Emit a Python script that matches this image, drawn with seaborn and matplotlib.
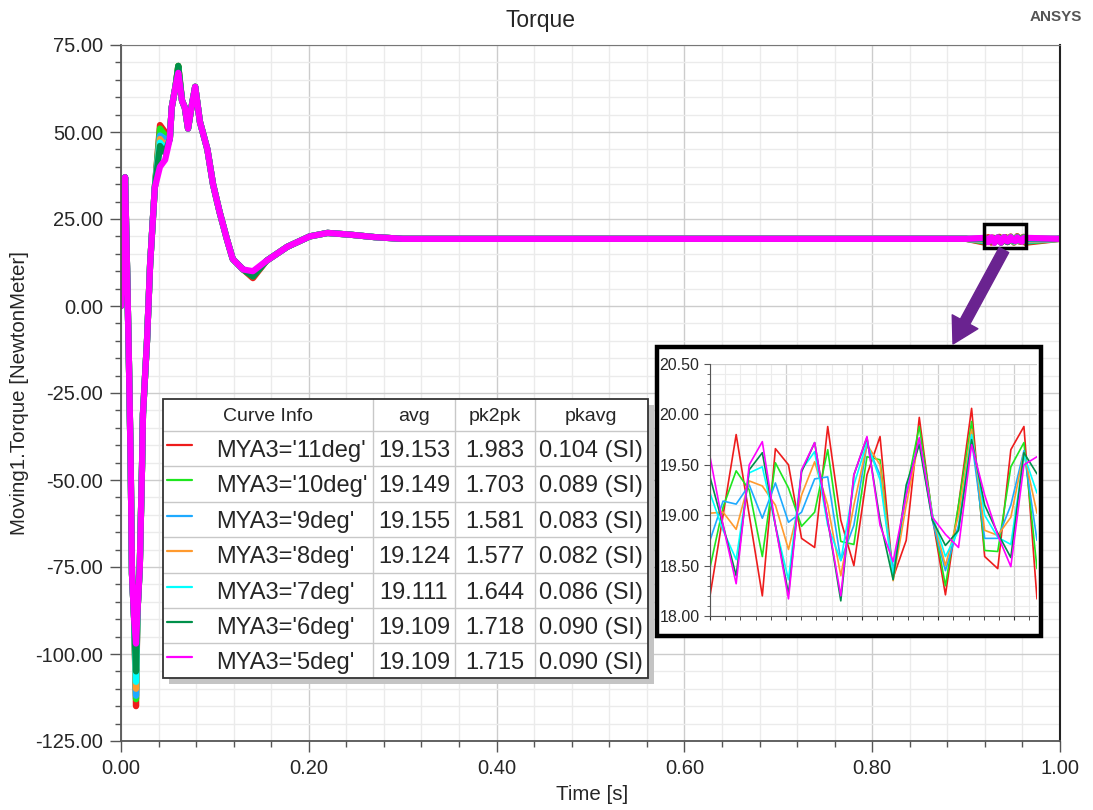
import numpy as np
import pandas as pd
import matplotlib
matplotlib.use("Agg")
import matplotlib.pyplot as plt
import seaborn as sns
from matplotlib.patches import Rectangle
from matplotlib.ticker import MultipleLocator, FormatStrFormatter, NullFormatter

# ---------------- data ----------------
curves = ["MYA3='11deg'", "MYA3='10deg'", "MYA3='9deg'", "MYA3='8deg'",
          "MYA3='7deg'", "MYA3='6deg'", "MYA3='5deg'"]
colors = ["#ee1c1c", "#1ee61e", "#1eaaff", "#ff9a2e", "#00ffff", "#00904a", "#ff00ff"]
avg = ["19.153", "19.149", "19.155", "19.124", "19.111", "19.109", "19.109"]
pk2pk = ["1.983", "1.703", "1.581", "1.577", "1.644", "1.718", "1.715"]
pkavg = ["0.104 (SI)", "0.089 (SI)", "0.083 (SI)", "0.082 (SI)", "0.086 (SI)", "0.090 (SI)", "0.090 (SI)"]

# transient part (shared shape)
t_tr = [0.000, 0.002, 0.0043, 0.0065, 0.0085, 0.0103, 0.0117, 0.014, 0.016, 0.0175,
        0.020, 0.0224, 0.0234, 0.0277, 0.031, 0.036, 0.0415, 0.047, 0.052, 0.054,
        0.058, 0.061, 0.065, 0.068, 0.0714, 0.075, 0.079, 0.084, 0.092, 0.098,
        0.105, 0.113, 0.119, 0.130, 0.1405, 0.155, 0.177, 0.201, 0.220, 0.244, 0.270]
v_tr = [0.0, 20.0, 37.0, 10.0, -17.0, -45.0, -77.0, -90.0, -97.0, -88.0,
        -75.0, -46.0, -31.0, -10.0, 12.0, 34.0, 40.0, 42.0, 48.0, 57.0,
        63.0, 67.0, 59.0, 57.0, 51.0, 57.0, 63.0, 53.0, 45.0, 35.0,
        27.0, 19.0, 13.5, 10.5, 10.0, 13.0, 17.0, 20.0, 21.0, 20.5, 19.8]
# per-curve values at points where the curves separate
dip_min = [-115.0, -113.0, -112.0, -110.0, -108.0, -105.0, -97.0]    # t = 0.016
hump_a = [52.0, 51.0, 49.0, 48.0, 47.0, 46.0, 40.0]                  # t = 0.0415
hump_b = [50.0, 49.0, 48.0, 46.0, 45.0, 44.0, 42.0]                  # t = 0.047
peak = [69.0, 69.0, 68.0, 68.0, 68.0, 69.0, 67.0]                    # t = 0.061
trough = [8.0, 8.5, 9.0, 9.0, 9.5, 8.5, 10.0]                        # t = 0.1405

# steady state
t_ss = [0.30, 0.40, 0.50, 0.60, 0.70, 0.80, 0.90]
v_ss = [19.3, 19.3, 19.3, 19.3, 19.3, 19.3, 19.3]
t_end = [1.0]
v_end = [19.3]

# zoomed window (inset) samples
t_in = list(np.linspace(0.9200, 0.9630, 26))
inset_vals = {
    "MYA3='11deg'": [18.20, 19.00, 19.80, 19.00, 18.20, 19.66, 19.50, 18.77, 18.68, 19.88, 18.95, 18.50, 19.40,
                     19.78, 18.38, 18.75, 19.97, 18.98, 18.21, 19.10, 20.06, 18.59, 18.47, 19.65, 19.88, 18.17],
    "MYA3='10deg'": [18.48, 19.08, 19.44, 19.25, 18.59, 19.52, 19.27, 18.89, 19.03, 19.65, 18.74, 18.71, 19.58,
                     19.55, 18.39, 19.24, 19.88, 19.01, 18.30, 19.10, 19.93, 18.65, 18.64, 19.48, 19.72, 18.47],
    "MYA3='9deg'": [18.75, 19.14, 19.11, 19.30, 18.97, 19.32, 18.93, 19.03, 19.36, 19.38, 18.55, 18.90, 19.70,
                    19.40, 18.45, 19.20, 19.75, 18.95, 18.45, 18.90, 19.75, 18.77, 18.77, 19.10, 19.64, 18.75],
    "MYA3='8deg'": [19.02, 19.03, 18.86, 19.34, 19.29, 19.10, 18.66, 19.20, 19.53, 19.10, 18.40, 19.10, 19.70,
                    19.50, 18.35, 19.10, 19.75, 19.00, 18.50, 19.00, 19.85, 18.85, 18.80, 18.98, 19.62, 19.02],
    "MYA3='7deg'": [19.22, 18.85, 18.56, 19.42, 19.48, 18.90, 18.36, 19.45, 19.63, 18.90, 18.55, 19.30, 19.72,
                    19.35, 18.40, 19.25, 19.75, 19.00, 18.59, 18.85, 19.80, 19.00, 18.78, 18.71, 19.60, 19.22],
    "MYA3='6deg'": [19.38, 18.90, 18.40, 19.45, 19.62, 18.90, 18.22, 19.43, 19.72, 18.95, 18.15, 19.40, 19.77,
                    18.95, 18.36, 19.30, 19.70, 18.95, 18.70, 18.85, 19.75, 19.10, 18.82, 18.58, 19.62, 19.41],
    "MYA3='5deg'": [19.58, 18.90, 18.32, 19.50, 19.73, 18.90, 18.17, 19.45, 19.72, 18.95, 18.20, 19.40, 19.78,
                    18.90, 18.54, 19.20, 19.77, 18.98, 18.81, 18.68, 19.70, 19.20, 18.80, 18.49, 19.50, 19.58],
}

# ---------------- build frames ----------------
rows_main, rows_in = [], []
for k, name in enumerate(curves):
    vt = list(v_tr)
    vt[t_tr.index(0.016)] = dip_min[k]
    vt[t_tr.index(0.0415)] = hump_a[k]
    vt[t_tr.index(0.047)] = hump_b[k]
    vt[t_tr.index(0.061)] = peak[k]
    vt[t_tr.index(0.1405)] = trough[k]
    tt = t_tr + t_ss + t_in + t_end
    vv = vt + v_ss + inset_vals[name] + v_end
    for t, v in zip(tt, vv):
        rows_main.append((name, t, v))
    for t, v in zip(t_in, inset_vals[name]):
        rows_in.append((name, t, v))
df = pd.DataFrame(rows_main, columns=["curve", "time", "torque"])
dfi = pd.DataFrame(rows_in, columns=["curve", "time", "torque"])
pal = dict(zip(curves, colors))

# ---------------- style ----------------
sns.set_style("white")
plt.rcParams["font.family"] = ["Liberation Sans", "DejaVu Sans"]

W, H = 1093, 810
fig = plt.figure(figsize=(W / 100, H / 100), dpi=100)


def box(x0, y0, x1, y1):
    return [x0 / W, 1 - y1 / H, (x1 - x0) / W, (y1 - y0) / H]


ax = fig.add_axes(box(121, 45, 1060, 741))
sns.lineplot(data=df, x="time", y="torque", hue="curve", hue_order=curves, palette=pal,
             lw=4.5, legend=False, estimator=None, sort=False, ax=ax)
ax.set_xlim(0, 1.0)
ax.set_ylim(-125, 75)
ax.xaxis.set_major_locator(MultipleLocator(0.2))
ax.xaxis.set_minor_locator(MultipleLocator(0.04))
ax.yaxis.set_major_locator(MultipleLocator(25))
ax.yaxis.set_minor_locator(MultipleLocator(5))
ax.xaxis.set_major_formatter(FormatStrFormatter("%.2f"))
ax.yaxis.set_major_formatter(FormatStrFormatter("%.2f"))
ax.grid(which="major", color="#cccccc", lw=1.0)
ax.grid(which="minor", color="#ebebeb", lw=1.0)
ax.set_axisbelow(True)
ax.tick_params(which="major", direction="out", length=8, width=1, color="#555555",
               labelsize=14.5, pad=5, bottom=True, left=True)
ax.tick_params(which="minor", direction="out", length=4.5, width=1, color="#555555",
               bottom=True, left=True)
for s in ["left", "bottom"]:
    ax.spines[s].set_color("#555555")
    ax.spines[s].set_linewidth(1.3)
ax.spines["top"].set_color("#777777")
ax.spines["right"].set_color("#222222")
ax.spines["right"].set_linewidth(1.5)
ax.set_xlabel("")
ax.set_ylabel("")

# marked window
ax.add_patch(Rectangle((t_in[0] - 0.001, 16.7), (t_in[-1] - t_in[0]) + 0.002, 6.9,
                       fill=False, ec="black", lw=2.5, zorder=10))

# texts
fig.text(541 / W, 1 - 20 / H, "Torque", ha="center", va="center", fontsize=16.5)
fig.text(1082 / W, 1 - 17 / H, "ANSYS", ha="right", va="center", fontsize=11,
         fontweight="bold", color="#555555")
fig.text(592 / W, 1 - 795 / H, "Time [s]", ha="center", va="center", fontsize=14.8)
fig.text(20 / W, 1 - 393 / H, "Moving1.Torque [NewtonMeter]", ha="center", va="center",
         rotation=90, fontsize=14.8)

# ---------------- legend table ----------------
tab = fig.add_axes(box(160, 396, 660, 690))
tab.set_xlim(160, 660)
tab.set_ylim(690, 396)
tab.axis("off")
tab.set_zorder(5)
tab.patch.set_alpha(0)
x0, x1 = 163, 648
ybounds = [399, 431, 466, 502, 537, 573, 608, 643, 678]
xcols = [163, 373, 455, 535, 648]
tab.add_patch(Rectangle((x0 + 6, ybounds[0] + 6), x1 - x0, ybounds[-1] - ybounds[0],
                        fc="#c4c4c4", ec="none", zorder=1))
tab.add_patch(Rectangle((x0, ybounds[0]), x1 - x0, ybounds[-1] - ybounds[0],
                        fc="white", ec="none", zorder=2))
for yb in ybounds[1:-1]:
    tab.plot([x0, x1], [yb, yb], color="#c8c8c8", lw=1, zorder=3)
for xb in xcols[1:-1]:
    tab.plot([xb, xb], [ybounds[0], ybounds[-1]], color="#c8c8c8", lw=1, zorder=3)
tab.add_patch(Rectangle((x0, ybounds[0]), x1 - x0, ybounds[-1] - ybounds[0],
                        fill=False, ec="#333333", lw=1.3, zorder=4))
hy = (ybounds[0] + ybounds[1]) / 2 + 1
tab.text(268, hy, "Curve Info", ha="center", va="center", fontsize=14, zorder=5)
tab.text(414, hy, "avg", ha="center", va="center", fontsize=14, zorder=5)
tab.text(495, hy, "pk2pk", ha="center", va="center", fontsize=14, zorder=5)
tab.text(591, hy, "pkavg", ha="center", va="center", fontsize=14, zorder=5)
for i, name in enumerate(curves):
    yc = (ybounds[i + 1] + ybounds[i + 2]) / 2 + 2
    tab.plot([167, 192], [yc - 6, yc - 6], color=colors[i], lw=1.6, zorder=5)
    tab.text(216, yc, name, ha="left", va="center", fontsize=17, zorder=5)
    tab.text(414, yc, avg[i], ha="center", va="center", fontsize=17, zorder=5)
    tab.text(495, yc, pk2pk[i], ha="center", va="center", fontsize=17, zorder=5)
    tab.text(591, yc, pkavg[i], ha="center", va="center", fontsize=17, zorder=5)

# ---------------- inset ----------------
frame = fig.add_axes(box(650, 342, 1050, 645))
frame.set_xlim(650, 1050)
frame.set_ylim(645, 342)
frame.axis("off")
frame.set_zorder(6)
frame.patch.set_alpha(0)
frame.add_patch(Rectangle((657, 347), 384, 289, fc="white", ec="black", lw=3.2))

axi = fig.add_axes(box(710, 364, 1037, 616))
axi.set_zorder(7)
sns.lineplot(data=dfi, x="time", y="torque", hue="curve", hue_order=curves, palette=pal,
             lw=1.2, legend=False, estimator=None, sort=False, ax=axi)
axi.set_xlim(t_in[0], t_in[-1])
axi.set_ylim(18.0, 20.5)
axi.yaxis.set_major_locator(MultipleLocator(0.5))
axi.yaxis.set_minor_locator(MultipleLocator(0.1))
axi.yaxis.set_major_formatter(FormatStrFormatter("%.2f"))
axi.xaxis.set_major_locator(MultipleLocator(0.01))
axi.xaxis.set_minor_locator(MultipleLocator(0.002))
axi.xaxis.set_major_formatter(NullFormatter())
axi.grid(which="major", color="#cfcfcf", lw=0.9)
axi.grid(which="minor", color="#ececec", lw=0.8)
axi.set_axisbelow(True)
axi.tick_params(axis="y", which="major", direction="out", length=4, labelsize=11.5, color="#555555")
axi.tick_params(axis="y", which="minor", direction="out", length=2, color="#555555")
axi.tick_params(axis="x", which="both", direction="out", length=3, color="#333333")
axi.tick_params(bottom=True, left=True, which="both")
for s in ["top", "right"]:
    axi.spines[s].set_visible(False)
for s in ["left", "bottom"]:
    axi.spines[s].set_color("#555555")
axi.set_xlabel("")
axi.set_ylabel("")

# arrow
ann = fig.add_axes([0, 0, 1, 1])
ann.set_xlim(0, W)
ann.set_ylim(H, 0)
ann.axis("off")
ann.patch.set_alpha(0)
ann.set_zorder(8)
ann.annotate("", xy=(953, 344), xytext=(1004, 250),
             arrowprops=dict(arrowstyle="simple,head_length=1.3,head_width=1.5,tail_width=0.55",
                             color="#6a2390", mutation_scale=14, shrinkA=0, shrinkB=0))

fig.savefig("out.png", dpi=100)
